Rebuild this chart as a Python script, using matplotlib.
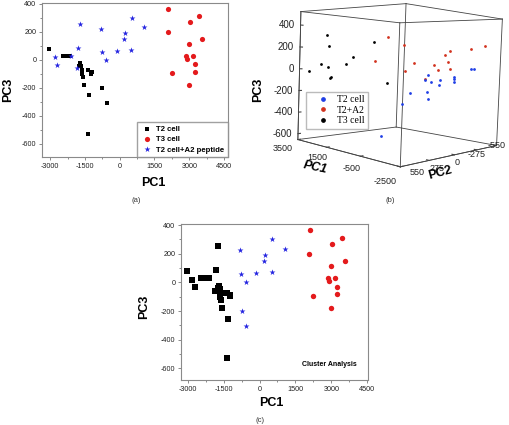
import numpy as np
import matplotlib
matplotlib.use('Agg')
import matplotlib.pyplot as plt
from matplotlib.ticker import MultipleLocator
from matplotlib.lines import Line2D
from mpl_toolkits.mplot3d import proj3d

plt.rcParams['font.family'] = ['Liberation Sans', 'DejaVu Sans']
plt.rcParams['axes.unicode_minus'] = False

# ---------------- data: 2D panels (PC1, PC3) ----------------
# T2 cells that stay T2 in the cluster analysis
t2_core_pc1 = [-3040, -2460, -2270, -2160, -1710, -1670, -1740, -1630, -1640,
               -1590, -1550, -1365, -1215, -1230, -1310, -1360]
t2_core_pc3 = [77, 31, 31, 29, -25, -45, -40, -72, -100, -122, -178, -74,
               -86, -98, -253, -528]
# T2 cells assigned to the peptide group by the cluster analysis
t2_moved_pc1 = [-745, -565]
t2_moved_pc3 = [-200, -306]
# T2+A2 peptide cells assigned to the T2 group by the cluster analysis
pep_moved_pc1 = [-2800, -2715, -2100, -1730, -1800, -1860]
pep_moved_pc3 = [18, -33, 28, 257, 87, -60]
# T2+A2 peptide cells that stay in their group
pep_core_pc1 = [-800, -755, -570, -130, 200, 240, 510, 500, 1060]
pep_core_pc3 = [224, 55, 0, 67, 149, 190, 300, 70, 235]
# T3 cells
t3_pc1 = [2090, 2080, 3030, 3430, 3550, 3000, 2840, 2920, 3150, 3230, 3230,
          2240, 3000]
t3_pc3 = [365, 200, 270, 311, 150, 113, 30, 7, 30, -30, -83, -92, -178]

legend_a = ['T2 cell', 'T3 cell', 'T2 cell+A2 peptide']

# ---------------- data: 3D panel (PC1, PC2, PC3) ----------------
b_t2_pc1 = [-1900] * 14 + [-1000]
b_t2_pc2 = [186, 217, 158, 437, 360, 189, 178, 51, 63, -99, -111, -111,
            -311, -350, 459]
b_t2_pc3 = [5, -39, -54, -217, -136, -133, -195, -36, -83, -15, -32, -61,
            56, 50, -487]

b_a2_pc1 = [200] * 8 + [-700] * 4 + [-1600, -2200]
b_a2_pc2 = [199, 26, 321, 0, -96, -230, -338, -395, -266, -331, -312, -343,
            -383, -407]
b_a2_pc3 = [308, 246, 96, 18, 92, -61, 76, 29, 169, 209, 109, 44, 240, 270]

b_t3_pc1 = [2900] * 11
b_t3_pc2 = [377, 354, 537, 434, 365, 328, 335, 176, 108, -117, -299]
b_t3_pc3 = [316, 215, -10, 53, 24, -69, -84, 51, 127, 285, -145]

legend_b = ['T2 cell', 'T2+A2', 'T3 cell']

pc1_ticks_b = [3500, 1500, -500, -2500]
pc2_ticks_b = [550, 275, 0, -275, -550]
pc3_ticks_b = [400, 200, 0, -200, -400, -600]
pc3_range_b = (-655, 522)

# ---------------- styles ----------------
BLACK = '#000000'
RED = '#e41a1c'
BLUE = '#2424e0'
RED_B = '#d2321e'
BLUE_B = '#1f3fe6'

W, H = 510, 425
fig = plt.figure(figsize=(W / 100, H / 100), dpi=100)


def rect(l, t, r, b):
    return [l / W, 1 - b / H, (r - l) / W, (b - t) / H]


def ftext(x, y, s, **kw):
    kw.setdefault('ha', 'center')
    kw.setdefault('va', 'center')
    fig.text(x / W, 1 - y / H, s, **kw)


def style2d(ax, xlim, ylim):
    ax.set_xlim(*xlim)
    ax.set_ylim(*ylim)
    ax.xaxis.set_major_locator(MultipleLocator(1500))
    ax.xaxis.set_minor_locator(MultipleLocator(750))
    ax.yaxis.set_major_locator(MultipleLocator(200))
    ax.yaxis.set_minor_locator(MultipleLocator(100))
    ax.tick_params(which='both', direction='out', top=False, right=False,
                   labelsize=5.2, color='#777777', labelcolor='#222222',
                   width=0.6, pad=1.5)
    ax.tick_params(which='major', length=2.5)
    ax.tick_params(which='minor', length=1.5)
    for s in ax.spines.values():
        s.set_color('#8a8a8a')
        s.set_linewidth(0.8)


# ---------------- panel (a) ----------------
axA = fig.add_axes(rect(42, 3, 228, 157))
style2d(axA, (-3350, 4670), (-693, 407))
axA.scatter(t2_core_pc1 + t2_moved_pc1, t2_core_pc3 + t2_moved_pc3,
            marker='s', s=11, c=BLACK, linewidths=0, label=legend_a[0])
axA.scatter(t3_pc1, t3_pc3, marker='o', s=14, c=RED, linewidths=0,
            label=legend_a[1])
axA.scatter(pep_moved_pc1 + pep_core_pc1, pep_moved_pc3 + pep_core_pc3,
            marker='*', s=20, c=BLUE, linewidths=0, label=legend_a[2])
axA.legend(loc='lower right', prop=dict(weight='bold', size=5.6),
           frameon=True, fancybox=False, edgecolor='#8a8a8a',
           borderpad=0.45, handletextpad=0.4, labelspacing=0.35,
           borderaxespad=0.0, handlelength=1.6)
ftext(153, 183, 'PC1', fontsize=9, fontweight='bold')
ftext(8, 90, 'PC3', fontsize=9, fontweight='bold', rotation=90)
ftext(136, 200, '(a)', fontsize=5.5, color='#333333')

# ---------------- panel (c) ----------------
axC = fig.add_axes(rect(181, 224, 368, 380))
style2d(axC, (-3280, 4530), (-681, 407))
axC.scatter(t2_core_pc1 + pep_moved_pc1, t2_core_pc3 + pep_moved_pc3,
            marker='s', s=13, c=BLACK, linewidths=0)
axC.scatter(t3_pc1, t3_pc3, marker='o', s=15, c=RED, linewidths=0)
axC.scatter(pep_core_pc1 + t2_moved_pc1, pep_core_pc3 + t2_moved_pc3,
            marker='*', s=20, c=BLUE, linewidths=0)
axC.text(0.94, 0.1, 'Cluster Analysis', transform=axC.transAxes,
         ha='right', va='center', fontsize=5, fontweight='bold')
ftext(271, 403, 'PC1', fontsize=9, fontweight='bold')
ftext(144, 307, 'PC3', fontsize=9, fontweight='bold', rotation=90)
ftext(260, 421, '(c)', fontsize=5.5, color='#333333')

# ---------------- panel (b): 3D ----------------
xl = (min(pc1_ticks_b), max(pc1_ticks_b))
yl = (min(pc2_ticks_b), max(pc2_ticks_b))
zl = pc3_range_b

cx0, cy0, side0 = 400.0, 90.0, 200.0
axB = fig.add_axes(rect(cx0 - side0 / 2, cy0 - side0 / 2,
                        cx0 + side0 / 2, cy0 + side0 / 2), projection='3d')
axB.set_xlim(*xl)
axB.set_ylim(*yl)
axB.set_zlim(*zl)

# fit the camera so the box corners land where the reference box is drawn
# corners: left, front, right, back  (bottom row then top row)
cx_ = np.array([xl[1], xl[0], xl[0], xl[1]] * 2, float)
cy_ = np.array([yl[1], yl[1], yl[0], yl[0]] * 2, float)
cz_ = np.array([zl[0]] * 4 + [zl[1]] * 4, float)
box_px = np.array([[298, 138], [403, 167], [498, 147], [395, 127],
                   [298, 10], [405, 4], [498, 20], [405, 23]], float)


def to_px(x, y, z):
    M = axB.get_proj()
    xs, ys, _ = proj3d.proj_transform(np.atleast_1d(np.asarray(x, float)),
                                      np.atleast_1d(np.asarray(y, float)),
                                      np.atleast_1d(np.asarray(z, float)), M)
    d = axB.transData.transform(np.column_stack([xs, ys]))
    return np.column_stack([d[:, 0], H - d[:, 1]])


def set_view(p):
    elev, azim, f, za, roll = p
    axB.view_init(elev=elev, azim=azim, roll=roll)
    axB.set_proj_type('persp', focal_length=f)
    axB.set_box_aspect((1, 1, za))


def fit(P):
    C = np.array([cx0, cy0])
    Q = P - C
    U = box_px - C
    Qm, Um = Q.mean(0), U.mean(0)
    s = ((Q - Qm) * (U - Um)).sum() / ((Q - Qm) ** 2).sum()
    t = Um - s * Qm
    err = ((s * Q + t - U) ** 2).sum()
    return err, s, t


def evaluate(p):
    if p[2] < 0.08 or p[3] < 0.3:
        return np.inf, 1.0, np.zeros(2)
    try:
        set_view(p)
        r = fit(to_px(cx_, cy_, cz_))
    except Exception:
        return np.inf, 1.0, np.zeros(2)
    if not np.isfinite(r[0]):
        return np.inf, 1.0, np.zeros(2)
    return r


best_p, best_e = None, np.inf
for elev in np.arange(-2, 11, 2.0):
    for azim in np.arange(120, 142, 2.0):
        for f in (0.2, 0.25, 0.3, 0.35, 0.4, 0.5):
            for za in (0.7, 0.8, 0.9, 1.0, 1.1):
                for roll in (-4.0, -2.0, 0.0, 2.0, 4.0):
                    p = [elev, azim, f, za, roll]
                    e = evaluate(p)[0]
                    if e < best_e:
                        best_p, best_e = p, e
steps = [1.0, 1.0, 0.03, 0.05, 1.0]
for stage in range(5):
    for _ in range(60):
        improved = False
        for i in range(5):
            for sgn in (-1, 1):
                p = list(best_p)
                p[i] += sgn * steps[i]
                e = evaluate(p)[0]
                if e < best_e:
                    best_p, best_e, improved = p, e, True
        if not improved:
            break
    steps = [v / 2 for v in steps]

_, s, t = evaluate(best_p)
set_view(best_p)
ncx, ncy, nside = cx0 + t[0], cy0 + t[1], side0 * s
axB.set_position(rect(ncx - nside / 2, ncy - nside / 2,
                      ncx + nside / 2, ncy + nside / 2))

axB.scatter(b_t2_pc1, b_t2_pc2, b_t2_pc3, c=BLUE_B, s=4, depthshade=False,
            linewidths=0)
axB.scatter(b_a2_pc1, b_a2_pc2, b_a2_pc3, c=RED_B, s=4, depthshade=False,
            linewidths=0)
axB.scatter(b_t3_pc1, b_t3_pc2, b_t3_pc3, c=BLACK, s=4, depthshade=False,
            linewidths=0)

# box outline (all 12 edges)
for a in xl:
    for b in yl:
        axB.plot([a, a], [b, b], list(zl), color='#444444', lw=0.6)
    for c in zl:
        axB.plot([a, a], list(yl), [c, c], color='#444444', lw=0.6)
for b in yl:
    for c in zl:
        axB.plot(list(xl), [b, b], [c, c], color='#444444', lw=0.6)
axB.set_xlim(*xl)
axB.set_ylim(*yl)
axB.set_zlim(*zl)
axB.set_xticks(pc1_ticks_b)
axB.set_yticks(pc2_ticks_b)
axB.set_zticks(pc3_ticks_b)
axB.xaxis.set_ticklabels([])
axB.yaxis.set_ticklabels([])
axB.zaxis.set_ticklabels([])
axB.zaxis.set_ticks_position('upper')
axB.grid(False)
for axis in (axB.xaxis, axB.yaxis, axB.zaxis):
    axis.set_pane_color((1, 1, 1, 0))
    axis.pane.set_edgecolor('#444444')
    axis.pane.set_linewidth(0.6)
    axis.line.set_color('#444444')
    axis.line.set_linewidth(0.6)
    axis._axinfo['tick']['inward_factor'] = 0.0
    axis._axinfo['tick']['outward_factor'] = 0.25
axB.tick_params(colors='#444444')
axB.set_xlabel('')
axB.set_ylabel('')
axB.set_zlabel('')

# tick labels, anchored to the projected box corners / ticks
cL = to_px(xl[1], yl[1], zl[0])[0]
cF = to_px(xl[0], yl[1], zl[0])[0]
cR = to_px(xl[0], yl[0], zl[0])[0]
p1_start = cL + np.array([-15.0, 9.0])
p1_end = cF + np.array([-15.0, 15.0])
for tv in pc1_ticks_b:
    fr = (xl[1] - tv) / (xl[1] - xl[0])
    p = p1_start + fr * (p1_end - p1_start)
    p[1] -= 2.5 * np.sin(np.pi * fr)
    ftext(p[0], p[1], str(tv), fontsize=6.5, color='#222222')
p2_start = cF + np.array([17.0, 6.0])
p2_end = cR + np.array([0.0, 0.0])
for tv in pc2_ticks_b:
    fr = (yl[1] - tv) / (yl[1] - yl[0])
    p = p2_start + fr * (p2_end - p2_start)
    p[1] += 3.5 * np.sin(np.pi * fr)
    ftext(p[0], p[1], str(tv), fontsize=6.5, color='#222222')
zpos = to_px([xl[1]] * len(pc3_ticks_b), [yl[1]] * len(pc3_ticks_b),
             pc3_ticks_b)
for tv, p in zip(pc3_ticks_b, zpos):
    ftext(p[0] - 6, p[1], str(tv), fontsize=7, color='#222222', ha='right')

handles = [Line2D([], [], ls='', marker='o', ms=2.4, mfc=c, mec=c)
           for c in (BLUE_B, RED_B, BLACK)]
fig.legend(handles, legend_b, loc='upper left',
           bbox_to_anchor=(306.5 / W, 1 - 91.5 / H),
           prop=dict(family='Liberation Serif', size=7), frameon=True,
           fancybox=False, edgecolor='#aaaaaa', borderpad=0.4,
           handletextpad=0.2, labelspacing=0.15, handlelength=2.5,
           borderaxespad=0.0)

ftext(315, 168, 'PC1', fontsize=9, fontweight='bold', style='italic',
      rotation=-12)
ftext(440, 173, 'PC2', fontsize=9, fontweight='bold', rotation=15)
ftext(258, 90, 'PC3', fontsize=9, fontweight='bold', rotation=90)
ftext(390, 201, '(b)', fontsize=5.5, color='#333333')

fig.savefig('out.png', dpi=100)
